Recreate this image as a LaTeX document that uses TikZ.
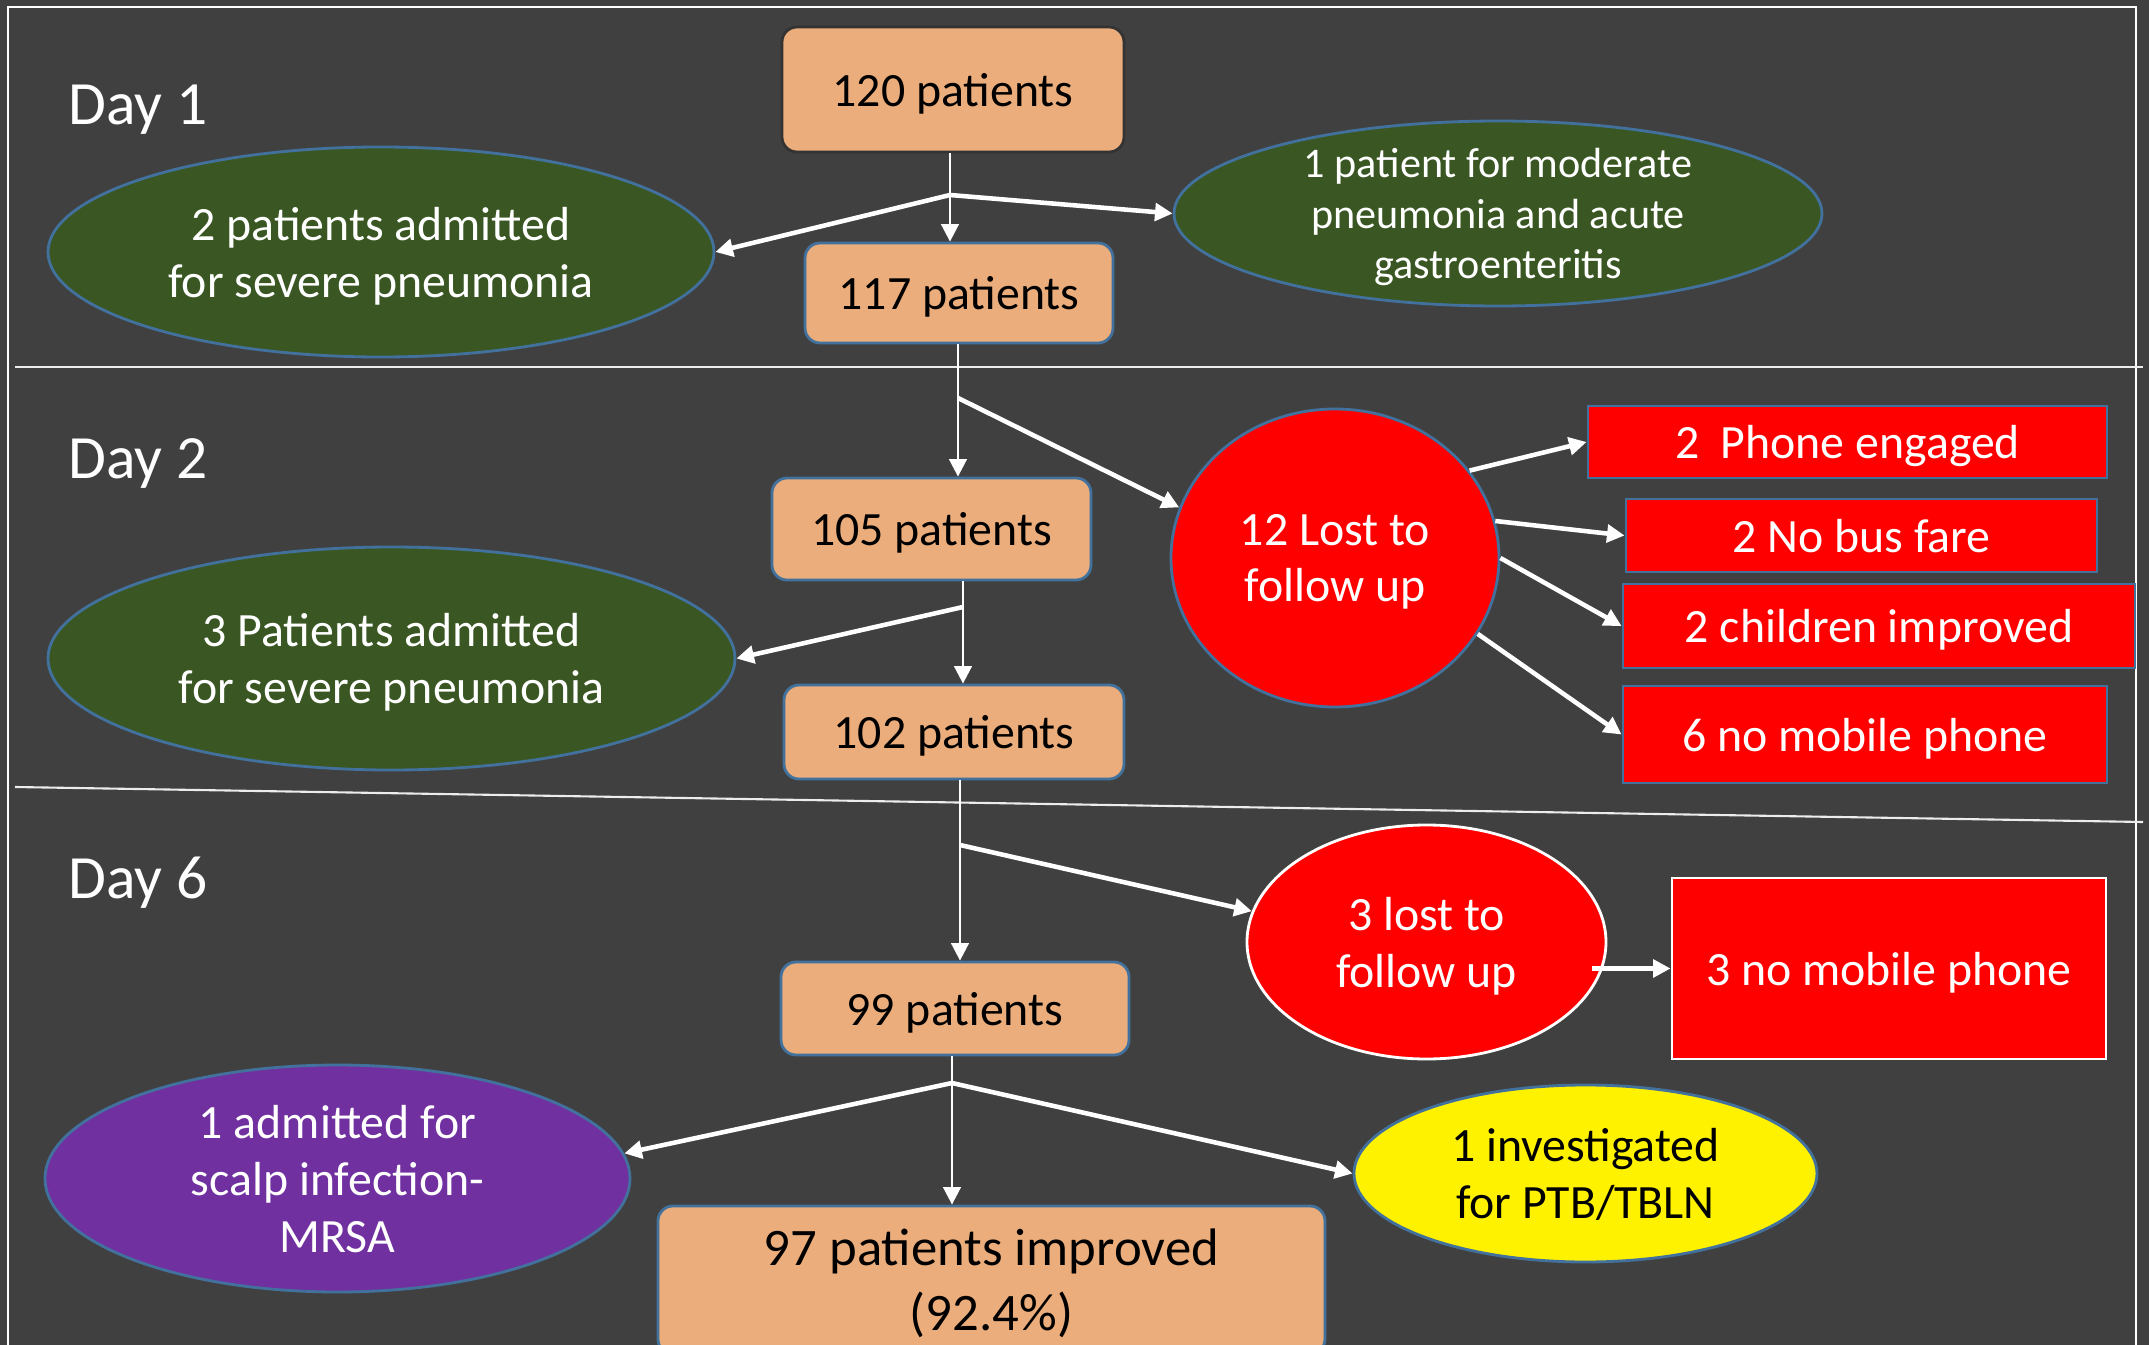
\documentclass[tikz,border=0pt]{standalone}
\usepackage{fontspec}
\setmainfont{Carlito}
\usepackage{tikz}
\usetikzlibrary{shapes.geometric,arrows.meta}
\definecolor{slate}{HTML}{404040}
\definecolor{peach}{HTML}{EBAD7B}
\definecolor{leaf}{HTML}{3A5723}
\definecolor{edge}{HTML}{41719C}
\definecolor{plum}{HTML}{7030A0}

\begin{document}
\begin{tikzpicture}[x=1cm,y=-1cm,every text node part/.style={align=center},
patients/.style={rectangle,rounded corners=0.15cm,fill=peach,draw=edge,line width=0.8pt,inner sep=0pt,text depth=0pt,font=\fontsize{13.6}{16.2}\selectfont},
admitted/.style={ellipse,fill=leaf,draw=edge,line width=0.8pt,inner sep=0pt,text depth=0pt,text=white,font=\fontsize{13.6}{16.2}\selectfont},
lost/.style={ellipse,fill=red,draw=edge,line width=0.8pt,inner sep=0pt,text depth=0pt,text=white,font=\fontsize{13.6}{16.2}\selectfont},
reason/.style={rectangle,fill=red,draw=edge,line width=0.8pt,inner sep=0pt,text depth=0pt,text=white,font=\fontsize{13.6}{16.2}\selectfont},
day/.style={anchor=base west,inner sep=0pt,text=white,font=\fontsize{17.5}{21}\selectfont},
flow/.style={draw=white,line width=1.3pt,-{Triangle[length=5pt,width=5pt]}},
drop/.style={flow,line width=0.8pt}]
\useasboundingbox (0,0) rectangle (21.49,13.45);
\fill[slate] (0,0) rectangle (21.49,13.45);
\draw[white,line width=0.6pt] (0.08,13.6) -- (0.08,0.07) -- (21.36,0.07) -- (21.36,13.6);
\draw[white!85!gray,line width=0.6pt] (0.15,3.67) -- (21.43,3.67);
\draw[white!85!gray,line width=0.6pt] (0.15,7.87) -- (21.43,8.22);
\node[day] (day1) at (0.68,1.25) {Day 1};
\node[day] (day2) at (0.68,4.78) {Day 2};
\node[day] (day6) at (0.68,8.98) {Day 6};
\node[patients,draw=black!80,minimum width=3.42cm,minimum height=1.25cm] (n120) at (9.53,0.895) {120 patients};
\node[patients,minimum width=3.08cm,minimum height=1.00cm] (n117) at (9.59,2.93) {117 patients};
\node[admitted,minimum width=6.66cm,minimum height=2.10cm] (adm2) at (3.81,2.52) {2 patients admitted\\for severe pneumonia};
\node[admitted,minimum width=6.48cm,minimum height=1.85cm,inner ysep=-8pt,font=\fontsize{12}{14.4}\selectfont] (mod1) at (14.98,2.135) {1 patient for moderate\\pneumonia and acute\\gastroenteritis};
\node[patients,minimum width=3.19cm,minimum height=1.02cm] (n105) at (9.315,5.29) {105 patients};
\node[admitted,minimum width=6.87cm,minimum height=2.23cm] (adm3) at (3.915,6.585) {3 Patients admitted\\for severe pneumonia};
\node[patients,minimum width=3.40cm,minimum height=0.94cm] (n102) at (9.54,7.32) {102 patients};
\node[lost,minimum width=3.28cm,minimum height=2.98cm] (lost12) at (13.35,5.58) {12 Lost to\\follow up};
\node[reason,minimum width=5.19cm,minimum height=0.72cm] (phone) at (18.475,4.42) {2~~Phone engaged};
\node[reason,minimum width=4.71cm,minimum height=0.73cm] (bus) at (18.615,5.355) {2 No bus fare};
\node[reason,minimum width=5.12cm,minimum height=0.84cm] (improved) at (18.79,6.26) {2 children improved};
\node[reason,minimum width=4.84cm,minimum height=0.97cm] (mobile6) at (18.65,7.345) {6 no mobile phone};
\node[lost,draw=white,minimum width=3.59cm,minimum height=2.34cm] (lost3) at (14.265,9.42) {3 lost to\\follow up};
\node[reason,draw=white,minimum width=4.34cm,minimum height=1.81cm] (mobile3) at (18.89,9.685) {3 no mobile phone};
\node[patients,minimum width=3.48cm,minimum height=0.93cm] (n99) at (9.55,10.085) {99 patients};
\node[admitted,fill=plum,minimum width=5.85cm,minimum height=2.27cm,inner ysep=-8pt] (mrsa) at (3.375,11.785) {1 admitted for\\scalp infection-\\MRSA};
\node[admitted,fill=yellow,text=black,minimum width=4.63cm,minimum height=1.77cm] (ptb) at (15.855,11.735) {1 investigated\\for PTB/TBLN};
\node[patients,minimum width=6.67cm,minimum height=1.48cm,font=\fontsize{15}{18.5}\selectfont] (n97) at (9.915,12.80) {97 patients improved\\(92.4\%)};
\coordinate (j1) at (9.50,1.95);
\coordinate (j2) at (9.58,3.98);
\coordinate (j3) at (9.63,6.07);
\coordinate (j4) at (9.60,8.45);
\coordinate (j5) at (9.52,10.83);
\draw[drop] (j1 |- n120.south) -- (j1 |- n117.north);
\draw[drop] (j2 |- n117.south) -- (j2 |- n105.north);
\draw[drop] (j3 |- n105.south) -- (j3 |- n102.north);
\draw[drop] (j4 |- n102.south) -- (j4 |- n99.north);
\draw[drop] (j5 |- n99.south) -- (j5 |- n97.north);
\draw[flow] (j1) -- (adm2.east);
\draw[flow] (j1) -- (mod1.west);
\draw[flow] (j2) -- (lost12.162);
\draw[flow] (j3) -- (adm3.east);
\draw[flow] (j4) -- (lost3.170);
\draw[flow] (j5) -- (mrsa.5);
\draw[flow] (j5) -- (ptb.west);
\draw[flow] (lost12.33) -- (phone.west);
\draw[flow] (lost12.13) -- (bus.west);
\draw[flow] (lost12.east) -- (improved.west);
\draw[flow] (lost12.-28) -- (mobile6.west);
\draw[flow] ([xshift=-0.15cm]lost3.east |- mobile3.west) -- (mobile3.west);
\end{tikzpicture}
\end{document}
